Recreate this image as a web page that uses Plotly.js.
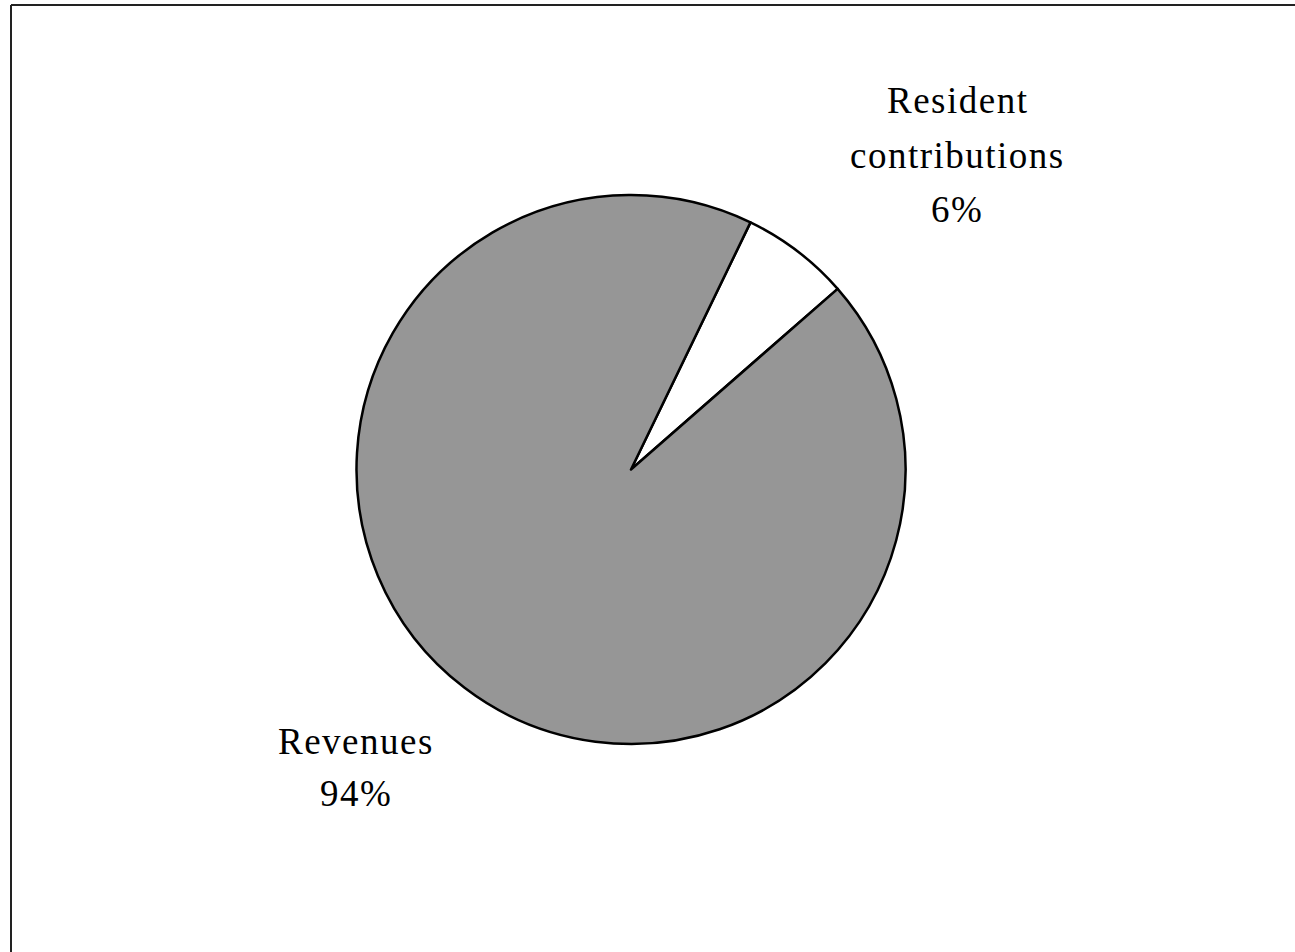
<!DOCTYPE html>
<html>
<head>
<meta charset="utf-8">
<script src="https://cdn.plot.ly/plotly-3.0.1.min.js"></script>
<style>
  html, body { margin: 0; padding: 0; background: #fff; }
  #chart { width: 1295px; height: 952px; }
  .annotation-text { letter-spacing: 1.5px; }
</style>
</head>
<body>
<div id="chart"></div>
<script>
// Data
const categories = ['Resident contributions', 'Revenues'];
const displayLines = [['Resident', 'contributions'], ['Revenues']];
const values = [6.4, 93.6];
const sliceColors = ['#ffffff', '#969696'];

const W = 1295, H = 952;
const cx = 631, cy = 469.5, R = 274.5;
const px = x => x / W;
const py = y => 1 - y / H;

const total = values.reduce((a, b) => a + b, 0);
const pctText = values.map(v => Math.round(v / total * 100) + '%');

// label line positions (pixel centers) for each category
const labelPos = [
  {x: 957, y: [101, 156, 209]},
  {x: 356, y: [741, 793]}
];

const annotations = [];
categories.forEach((c, i) => {
  const lines = displayLines[i].concat([pctText[i]]);
  lines.forEach((t, j) => {
    annotations.push({
      xref: 'paper', yref: 'paper',
      x: px(labelPos[i].x), y: py(labelPos[i].y[j]),
      xanchor: 'center', yanchor: 'middle',
      text: t, showarrow: false,
      font: {family: 'Liberation Serif, Times New Roman, serif', size: 37, color: '#000'}
    });
  });
});

const trace = {
  type: 'pie',
  labels: categories,
  values: values,
  sort: false,
  direction: 'clockwise',
  rotation: 25.8,
  textinfo: 'none',
  hoverinfo: 'label+percent',
  marker: {colors: sliceColors, line: {color: '#000', width: 2.5}},
  domain: {x: [px(cx - R), px(cx + R)], y: [py(cy + R), py(cy - R)]},
  showlegend: false
};

const layout = {
  width: W, height: H,
  margin: {l: 0, r: 0, t: 0, b: 0},
  paper_bgcolor: '#fff',
  showlegend: false,
  annotations: annotations,
  shapes: [
    {type: 'line', xref: 'paper', yref: 'paper', x0: px(11), x1: 1, y0: py(5), y1: py(5), line: {color: '#222', width: 2}},
    {type: 'line', xref: 'paper', yref: 'paper', x0: px(11), x1: px(11), y0: py(5), y1: 0, line: {color: '#222', width: 2}}
  ]
};

Plotly.newPlot('chart', [trace], layout, {displayModeBar: false, staticPlot: true});
</script>
</body>
</html>
